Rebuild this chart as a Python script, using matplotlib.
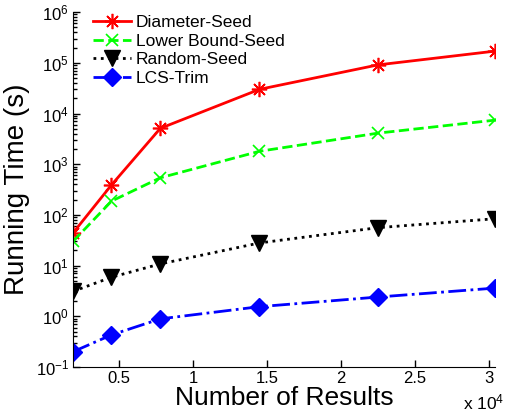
import matplotlib
matplotlib.use("Agg")
import matplotlib.pyplot as plt
from matplotlib.ticker import FixedLocator, FuncFormatter, NullFormatter

plt.rcParams['font.family'] = ['Liberation Sans', 'DejaVu Sans']
plt.rcParams['mathtext.fontset'] = 'custom'
plt.rcParams['mathtext.rm'] = 'Liberation Sans'
plt.rcParams['mathtext.it'] = 'Liberation Sans:italic'

x = [1900, 4500, 7800, 14500, 22500, 30400]
diameter = [44, 390, 5100, 30000, 91000, 170000]
lower = [30, 187, 540, 1800, 4100, 7400]
random_seed = [3.1, 5.9, 10.8, 28, 56, 84]
lcs = [0.2, 0.43, 0.89, 1.55, 2.4, 3.6]
labels = ['Diameter-Seed', 'Lower Bound-Seed', 'Random-Seed', 'LCS-Trim']
xticks = [5000, 10000, 15000, 20000, 25000, 30000]
yexps = [-1, 0, 1, 2, 3, 4, 5, 6]

fig = plt.figure(figsize=(5.07, 4.18), dpi=100)
ax = fig.add_axes([0.144, 0.122, 0.832, 0.849])

ax.plot(x, diameter, color=(1, 0, 0), ls='-', lw=2, marker=(8, 2, 0), ms=11, mew=1.2, label=labels[0])
ax.plot(x, lower, color=(0, 1, 0), ls='--', lw=2, marker='x', ms=8, mew=1.2, label=labels[1])
ax.plot(x, random_seed, color='k', ls=':', lw=2, marker='v', ms=11, label=labels[2])
ax.plot(x, lcs, color=(0, 0, 1), ls='-.', lw=2, marker='D', ms=9, label=labels[3])

ax.set_yscale('log')
ax.set_ylim(0.1, 1e6)
ax.set_xlim(x[0], x[-1])
ax.xaxis.set_major_locator(FixedLocator(xticks))
ax.xaxis.set_major_formatter(FuncFormatter(lambda v, p: ('%g' % (v / 1e4))))
ax.yaxis.set_major_locator(FixedLocator([10.0 ** e for e in yexps]))
ax.yaxis.set_major_formatter(FuncFormatter(
    lambda v, p: r'$\mathdefault{10^{%d}}$' % round(__import__('math').log10(v))))
minor = [m * 10.0 ** e for e in yexps[:-1] for m in range(2, 10)]
ax.yaxis.set_minor_locator(FixedLocator(minor))
ax.yaxis.set_minor_formatter(NullFormatter())

for s in ['top', 'right']:
    ax.spines[s].set_visible(False)
ax.tick_params(which='both', direction='in', labelsize=12, width=1)
ax.tick_params(which='major', length=5, pad=3)
ax.tick_params(which='minor', length=3)

ax.set_xlabel('Number of Results', fontsize=19, labelpad=0)
ax.set_ylabel('Running Time (s)', fontsize=20, labelpad=4)
fig.text(0.995, 0.014, r'x $10^{4}$', ha='right', va='bottom', fontsize=12.5)

leg = ax.legend(loc='upper left', frameon=False, fontsize=12.5, handlelength=2.2,
                handletextpad=0.3, labelspacing=0.2, borderaxespad=0.0,
                bbox_to_anchor=(0.03, 1.012))

fig.savefig('out.png', dpi=100)
